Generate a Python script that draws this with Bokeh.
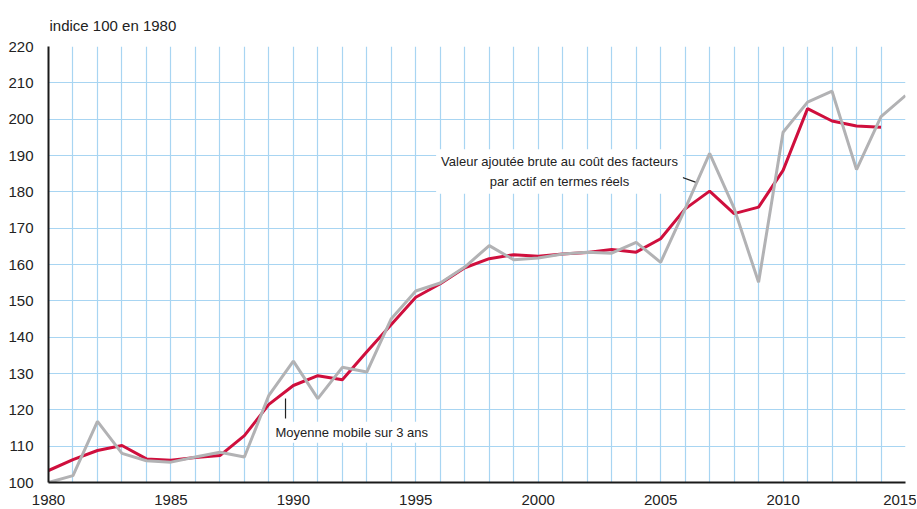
from bokeh.plotting import figure
from bokeh.models import Range1d, FixedTicker, Label
from bokeh.embed import file_html
from bokeh.resources import INLINE

years = list(range(1980, 2016))
valeur_ajoutee = [100.0, 101.9, 116.8, 108.0, 106.0, 105.6, 107.0, 108.3, 107.0, 124.0,
                  133.4, 123.1, 131.7, 130.4, 145.1, 152.7, 154.9, 159.3, 165.2, 161.3,
                  161.8, 162.9, 163.4, 163.1, 166.1, 160.6, 175.3, 190.6, 175.5, 155.1,
                  196.4, 204.7, 207.7, 186.1, 200.7, 206.5]
years_mm = list(range(1980, 2015))
moyenne_mobile = [103.3, 106.3, 108.8, 110.2, 106.5, 106.1, 106.9, 107.4, 112.9, 121.5,
                  126.7, 129.4, 128.3, 136.0, 143.5, 151.0, 154.7, 159.1, 161.6, 162.7,
                  162.3, 162.9, 163.3, 164.1, 163.4, 167.1, 175.3, 180.2, 174.0, 175.8,
                  185.9, 202.9, 199.5, 198.1, 197.8]
x_ticks = [1980, 1985, 1990, 1995, 2000, 2005, 2010, 2015]
y_ticks = list(range(100, 230, 10))

titre = "indice 100 en 1980"
label_va = "Valeur ajoutée brute au coût des facteurs\npar actif en termes réels"
label_mm = "Moyenne mobile sur 3 ans"

RED = "#cf0f3d"
GRAY = "#b2b2b4"
GRID = "#a8d5f2"
FONT = "Liberation Sans"

p = figure(width=916, height=509, output_backend="svg", toolbar_location=None,
           x_range=Range1d(1980, 2015), y_range=Range1d(100, 220),
           min_border_left=48, min_border_right=11, min_border_top=46, min_border_bottom=27,
           title=titre)
p.title.text_font = FONT
p.title.text_font_size = "15px"
p.title.text_font_style = "normal"
p.title.text_color = "#222222"
p.title.standoff = 26
p.title.offset = 1

p.outline_line_color = None
p.background_fill_color = "white"
p.border_fill_color = "white"

p.xgrid.ticker = FixedTicker(ticks=years)
p.ygrid.ticker = FixedTicker(ticks=y_ticks)
for g in (p.xgrid, p.ygrid):
    g.grid_line_color = GRID
    g.grid_line_width = 1.2

p.xaxis.ticker = FixedTicker(ticks=x_ticks)
p.yaxis.ticker = FixedTicker(ticks=y_ticks)
for ax in (p.xaxis, p.yaxis):
    ax.axis_line_color = "#1a1a1a"
    ax.axis_line_width = 2
    ax.major_tick_line_color = None
    ax.minor_tick_line_color = None
    ax.major_tick_out = 0
    ax.major_tick_in = 0
    ax.major_label_text_font = FONT
    ax.major_label_text_font_size = "15px"
    ax.major_label_text_color = "#222222"
p.yaxis.major_label_standoff = 15
p.xaxis.major_label_standoff = 12

p.line(years_mm, moyenne_mobile, line_color=RED, line_width=3)
p.line(years, valeur_ajoutee, line_color=GRAY, line_width=3)

# leader lines of the annotations
p.line([2005.47, 2006.42], [184.97, 182.66], line_color="#222222", line_width=1.2)
p.line([1989.68, 1989.68], [123.1, 117.6], line_color="#222222", line_width=1.2)

p.add_layout(Label(x=2000.87, y=185.6, text=label_va, text_align="center",
                   text_baseline="middle", text_font=FONT, text_font_size="13px",
                   text_line_height=1.3, text_color="#222222",
                   background_fill_color="white", padding=5))
p.add_layout(Label(x=1989.15, y=113.8, text=label_mm, text_align="left",
                   text_baseline="middle", text_font=FONT, text_font_size="13px",
                   text_color="#222222", background_fill_color="white", padding=3))

open("out.html", "w").write(file_html(p, INLINE))
